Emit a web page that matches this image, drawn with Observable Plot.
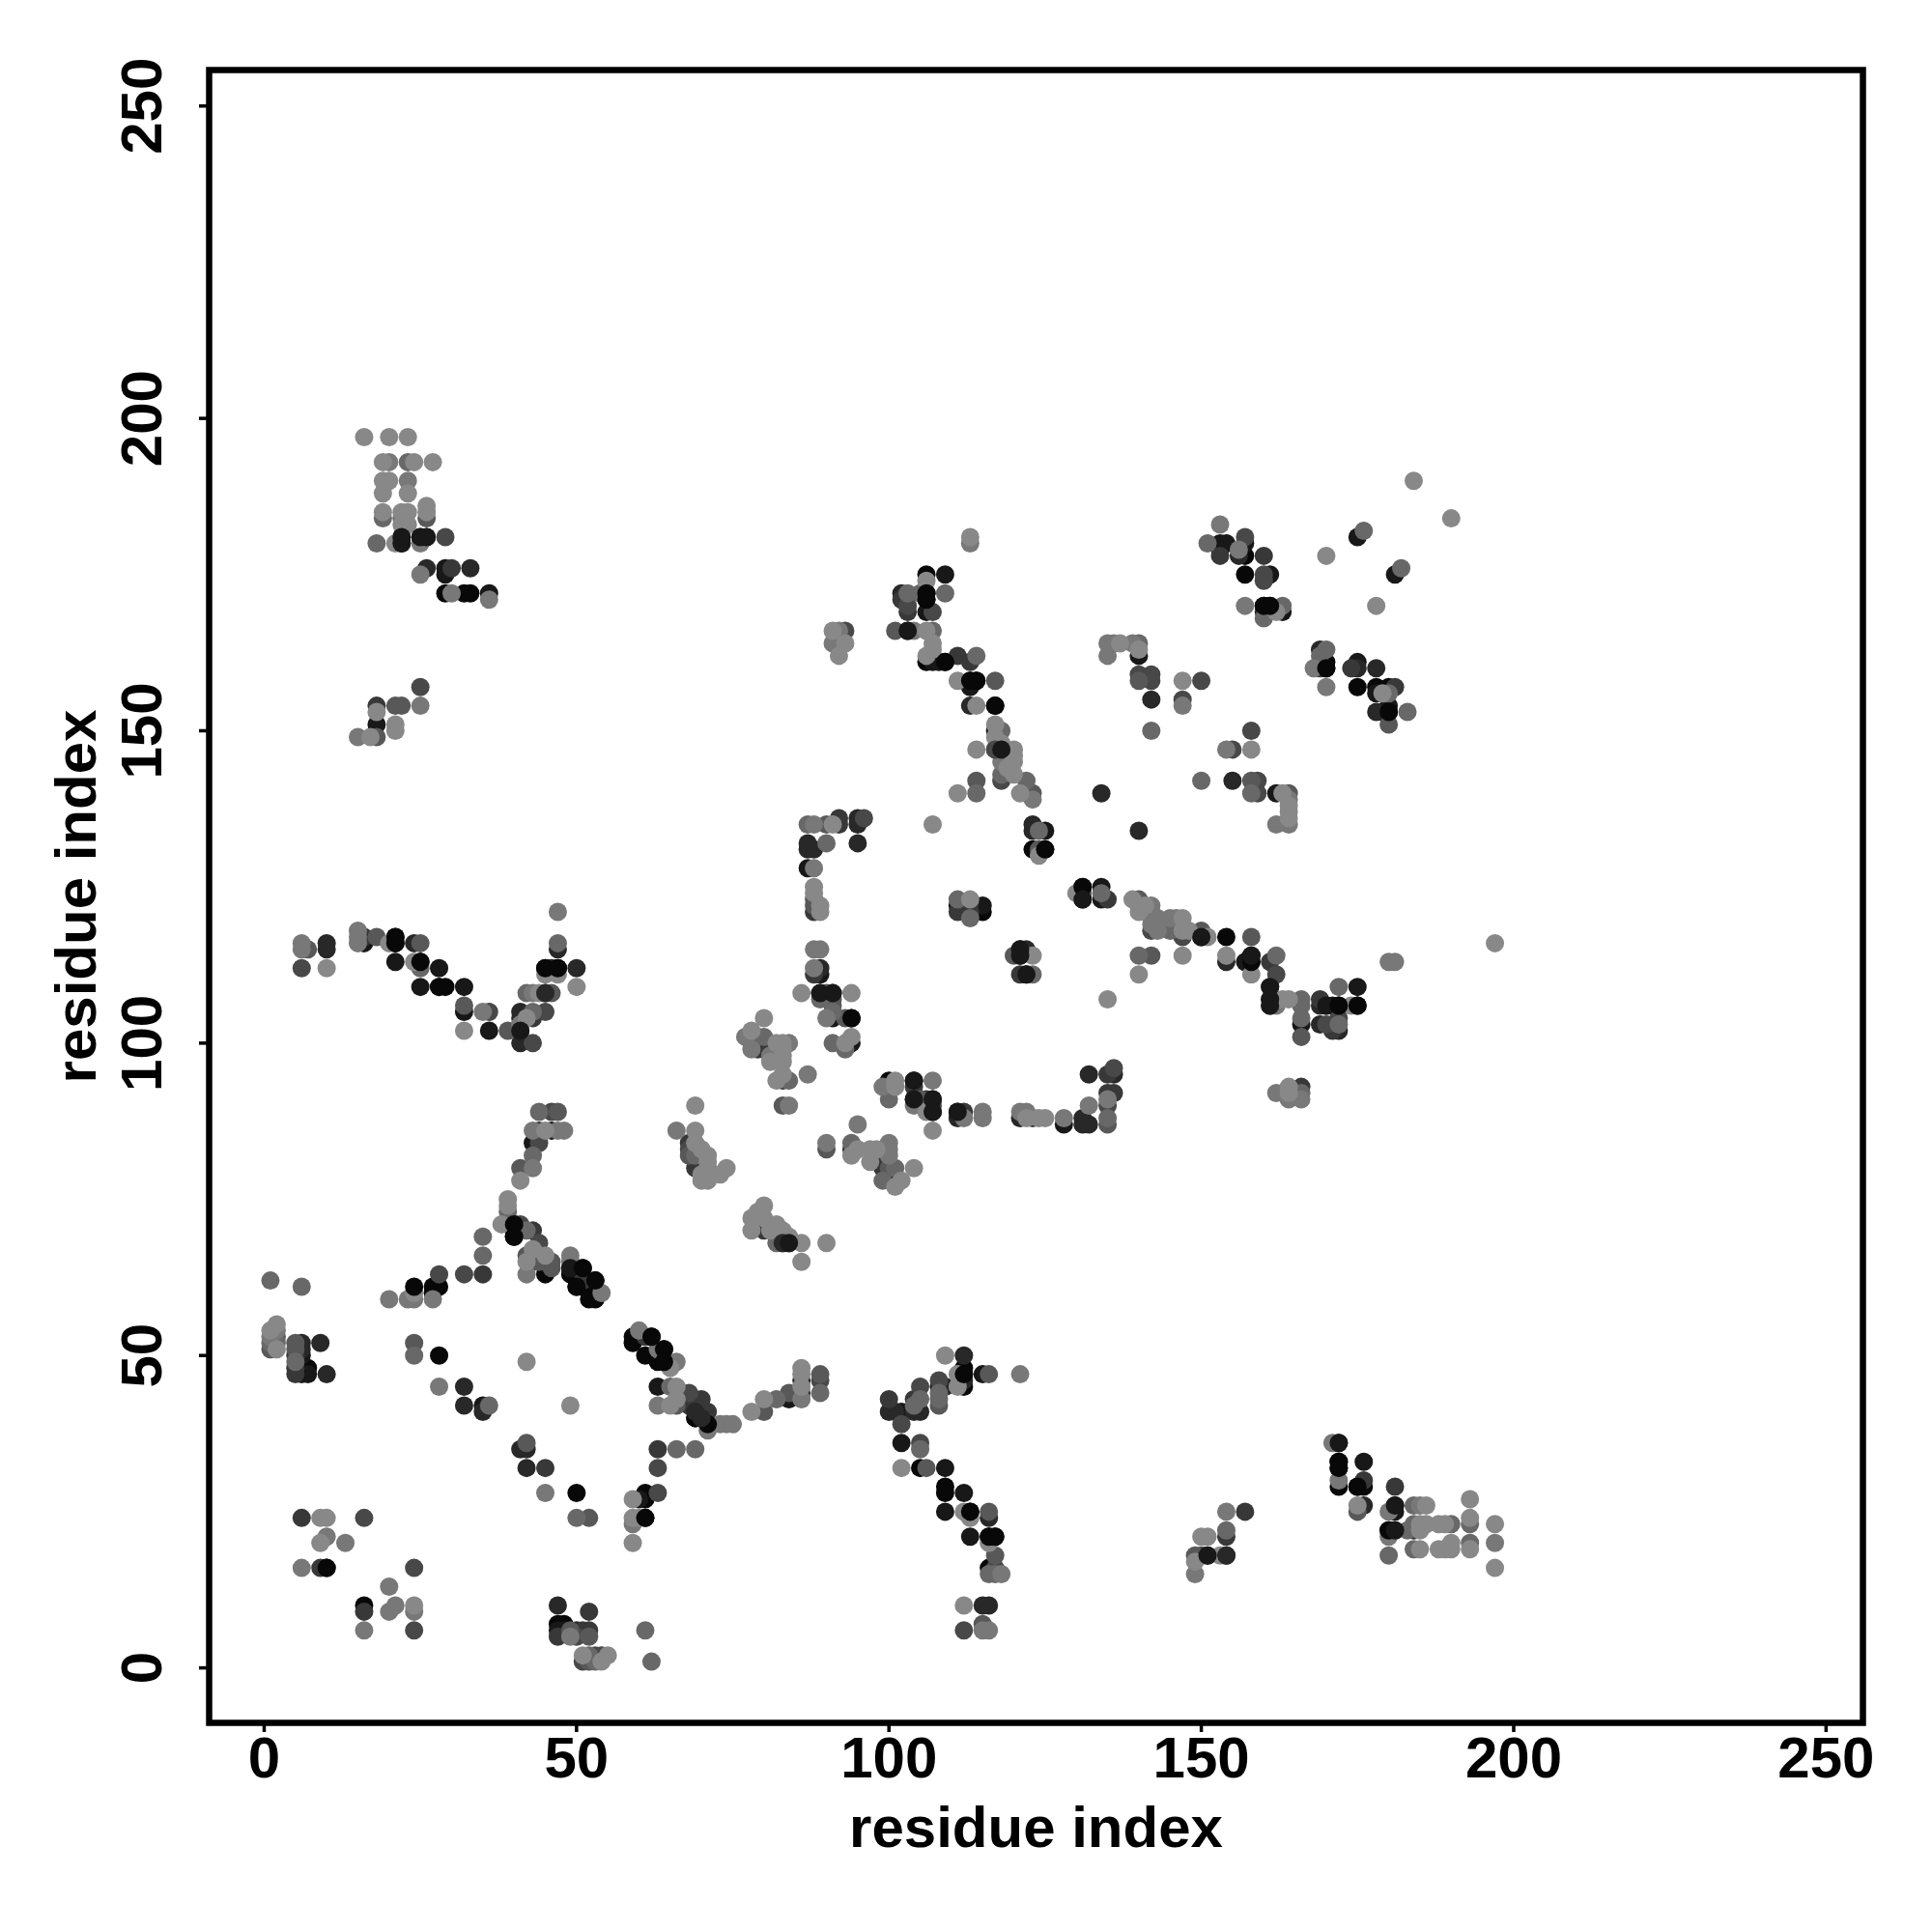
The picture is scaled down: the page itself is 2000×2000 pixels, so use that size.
<!DOCTYPE html>
<html><head><meta charset="utf-8">
<script src="https://cdn.jsdelivr.net/npm/d3@7"></script>
<script src="https://cdn.jsdelivr.net/npm/@observablehq/plot@0.6"></script>
<style>html,body{margin:0;padding:0;background:#fff}</style>
</head><body><div id="chart"></div>
<script>
// each contact: [residue i, residue j, darkness level 0 (black) .. 8 (light gray)]
const lowerLeft = [[1,62,6],[6,61,6],[1,54,8],[1,53,7],[1,52,6],[1,51,5],[2,55,8],[2,54,7],[2,53,5],[2,52,6],[2,51,8],
[5,52,5],[6,52,2],[5,51,5],[6,51,2],[5,50,3],[6,50,1],[5,49,6],[5,48,3],[5,47,3],[6,48,0],[7,48,0],[6,47,1],[7,47,1],[9,52,2],[10,47,2],
[20,59,7],[23,59,7],[24,59,7],[24,60,8],[27,59,7],[27,60,0],[27,61,0],[28,61,0],[28,63,4],[32,63,4],[35,63,3],[35,66,6],[35,69,6],
[24,52,5],[24,50,6],[28,50,0],[42,49,8],[28,45,7],[32,45,2],[32,42,2],[35,42,1],[35,41,2],[36,42,6],[49,42,8],
[42,36,5],[41,35,2],[42,35,2],[42,32,2],[45,32,3],[45,28,7],[50,28,0],[50,24,6],[52,24,5],
[6,24,3],[9,24,8],[10,24,8],[16,24,4],[10,21,7],[9,20,8],[13,20,7],[6,16,7],[9,16,3],[10,16,0],[24,16,4],[20,13,7],[16,10,0],[16,9,3],[21,10,7],[20,9,7],[24,10,8],[24,9,7],[16,6,7],[24,6,4]];
const bottomMiddle = [[47,10,2],[52,9,3],[47,7,0],[48,7,0],[47,6,1],[47,5,3],[48,6,1],[49,5,7],[50,6,2],[51,6,3],[52,6,3],[52,5,5],[50,5,4],[49,6,5],
[51,2,8],[51,1,4],[52,2,6],[52,1,5],[53,2,4],[53,1,6],[54,2,4],[54,1,8],[55,2,8],[61,6,6],[62,1,6],
[59,27,8],[59,24,8],[59,23,7],[59,20,8],[60,24,8],[61,24,0],[60,27,1],[61,28,0],[61,27,0],[63,28,4],[63,32,4],[63,35,3],[66,35,6],[69,35,6]];
const chainCentre = [[59,53,0],[59,52,0],[60,54,7],[61,53,3],[62,53,0],[61,50,0],[63,51,7],[64,51,0],[63,49,0],[64,49,0],[66,49,7],[65,48,8],
[63,45,1],[65,45,6],[66,45,8],[63,42,7],[65,42,8],[66,42,5],[66,43,8],[68,44,4],[70,43,3],[69,43,3],[69,40,0],[69,41,2],[71,41,3],[71,39,0],[71,38,7],[70,40,2],[68,42,3],[73,39,7],[74,39,7],[75,39,7],
[78,41,8],[80,41,5],[80,43,8],[82,43,6],[84,44,5],[84,43,1],[86,48,8],[86,47,8],[86,46,2],[86,45,8],[86,44,3],[86,43,7],[89,47,5],[89,46,4],[89,44,6]];
const crossArms = [[39,75,8],[39,74,8],[39,73,6],[38,71,8],[39,71,0],[40,71,0],[41,71,4],[40,69,0],[43,70,3],[44,68,4],[42,70,6],[42,66,5],[43,67,8],[45,66,8],[46,65,5],[49,66,7],
[42,65,8],[42,63,7],[45,63,0],[43,65,3],[44,65,5],[45,65,5],[46,64,5],[49,65,7],[50,64,1],[51,64,0],[49,64,1],[49,63,0],[50,61,0],[51,62,3],[52,60,0],[53,62,0],[54,60,7],[52,59,0],[53,59,0],
[44,89,6],[46,89,4],[47,89,5],[43,86,7],[44,86,3],[45,86,8],[46,86,1],[47,86,7],[48,86,7],[43,84,1],[44,84,4],[43,82,6],[41,80,5],[43,80,7],[41,78,8]];
const upperLeftArc = [[6,116,7],[6,115,7],[7,115,5],[10,116,2],[10,115,2],[6,112,4],[10,112,8],[15,118,7],[15,117,7],[15,116,7],[16,117,3],[16,116,1],[18,117,5],[20,116,8],[21,117,0],[21,116,0],[24,116,2],[25,116,5],
[21,113,1],[24,113,8],[25,113,0],[25,112,6],[28,112,1],[25,109,1],[28,109,0],[29,109,0],[32,109,1],[32,106,5],[32,105,1],[32,102,8],[35,105,7],[36,105,4],[36,102,1],[39,102,5],
[41,105,2],[41,104,2],[41,103,7],[42,108,6],[43,108,7],[44,108,8],[45,108,2],[46,108,5],[43,105,6],[43,104,3],[42,104,8],[45,105,4],[41,102,1],[41,100,2],[43,100,4],
[45,112,0],[46,112,2],[47,112,0],[45,111,8],[47,111,8],[50,112,2],[50,109,8],[47,121,7],[47,116,6],[47,115,2]];
const centreLeft = [[69,90,8],[66,86,7],[69,86,8],[68,84,3],[68,83,4],[68,82,5],[69,84,8],[70,83,8],[71,82,8],[69,82,6],[69,80,3],[70,79,8],[71,80,8],[70,78,8],[71,78,8],[73,79,8],[74,80,8],[71,81,8],
[80,74,8],[79,73,8],[78,72,8],[80,72,8],[78,70,8],[80,70,3],[82,71,8],[81,70,8],[82,68,6],[83,70,8],[83,68,2],[84,69,8],[84,68,1],[86,68,8],[86,65,8],[90,68,8],
[88,125,8],[88,124,8],[88,123,5],[88,122,5],[89,122,8],[88,121,3],[89,121,8],[88,115,7],[89,115,7],[88,112,7],[88,111,3],[89,112,2],[89,111,1],
[86,108,8],[89,108,1],[90,108,5],[91,108,1],[89,107,6],[91,107,5],[94,108,8],[91,106,5],[90,104,7],[91,104,1],[93,104,5],[94,104,0],[91,105,6],[91,100,6],[93,99,6],[94,100,1],[94,101,8],[93,100,8],
[80,104,8],[77,101,7],[78,102,8],[78,100,6],[78,99,7],[79,101,5],[79,99,3],[80,101,6],[80,99,3],[81,98,7],[83,100,8],[84,100,7],[82,100,8],[83,99,8],[83,98,8],[83,97,8],[82,94,8],[83,94,4],[84,94,6],[83,95,8],[81,97,8],[87,95,7],[83,90,5],[84,90,7],
[90,84,7],[90,83,5],[95,87,7],[94,84,6],[94,82,8],[95,83,8],[94,83,3],[97,83,8],[98,83,8],[97,81,8],[100,84,7],[100,83,7],[100,82,7],[99,81,3],[99,80,3],[99,78,6],[100,79,2],[101,80,6],[101,77,8],[102,78,8],[104,80,8],[100,80,5]];
const horizontalArm = [[99,93,7],[100,94,0],[100,93,5],[100,91,6],[101,94,8],[101,93,8],[104,94,1],[104,93,3],[104,91,1],[105,91,5],[104,90,7],[107,94,7],[106,91,3],[107,91,1],[107,90,4],[106,89,8],[107,89,1],[107,86,8],
[111,89,1],[112,89,3],[112,88,7],[111,88,2],[115,89,7],[115,88,7],[121,89,7],[122,89,7],[121,88,2],[122,88,8],[123,88,3],[124,88,8],[125,88,8],[128,88,7],[128,87,1],[131,88,2],[131,87,2],[132,87,2],[132,90,7],
[132,95,2],[135,95,3],[136,96,4],[136,95,2],[135,92,3],[136,92,3],[135,91,7],[135,90,4],[135,88,6],[135,87,5]];
const centreMiddle = [[111,123,6],[111,122,1],[111,121,3],[113,123,8],[113,122,2],[113,121,3],[113,120,6],[115,122,1],[115,121,0],[131,125,0],[131,124,5],[131,123,1],[130,124,8],[134,125,1],[134,123,1],[135,123,3],[134,124,6],
[120,114,5],[121,115,1],[122,115,2],[121,114,1],[123,114,8],[121,111,3],[122,111,1],[123,111,6],[135,107,8],[140,111,8],[140,114,6],[142,114,5],[147,114,8],
[139,123,8],[140,123,5],[140,122,5],[140,121,8],[141,122,8],[142,122,7],[142,121,7],[142,120,7],[142,118,4],[143,118,7],[142,119,7],[143,120,7],[145,120,7],[146,120,7],[147,120,8],[145,118,6],[146,118,1],[147,117,4],[147,118,8],[148,118,8],[150,118,5],[150,117,1],[151,117,8]];
const lowerMiddle = [[100,43,3],[100,41,2],[101,41,2],[102,41,1],[102,39,4],[102,36,1],[102,32,8],[104,43,3],[105,45,4],[105,43,6],[105,41,2],[104,41,2],[104,42,6],[108,46,4],[108,43,6],[108,42,5],[108,44,6],[108,45,1],[109,45,2],
[111,47,8],[111,45,8],[112,50,2],[109,50,8],[112,47,0],[112,48,0],[112,46,2],[112,45,0],[115,47,1],[116,47,5],[121,47,7],[105,36,4],[105,35,6],[105,32,0],[106,32,5],[109,32,1],[109,29,0],[109,28,0],[112,28,1],[109,25,1],
[112,25,8],[113,25,0],[113,24,8],[116,25,5],[116,24,2],[113,21,1],[116,21,0],[117,21,0],[116,20,8],[117,18,5],[116,16,0],[117,16,4],[116,15,6],[117,15,6],[118,15,7],[112,10,8],[115,10,2],[116,10,2],[112,6,4],[115,7,5],[115,6,7],[116,6,7]];
const lowerRight = [[149,15,7],[149,17,8],[149,18,5],[150,18,4],[151,18,1],[150,21,8],[151,21,8],[153,18,8],[154,18,2],[154,21,3],[154,22,6],[154,25,7],[157,25,3],
[171,36,7],[172,36,1],[172,33,0],[172,32,0],[172,30,7],[172,29,0],[176,33,1],[176,30,3],[175,29,0],[176,29,0],[176,26,2],[175,26,8],[175,25,5],[181,29,3],[181,26,1],[181,25,1],[180,25,7],[180,22,0],[181,22,1],[180,21,7],[180,18,6],
[184,26,6],[185,26,7],[186,26,8],[183,22,6],[184,23,6],[185,23,8],[186,23,8],[184,22,3],[185,22,8],[188,23,8],[189,23,8],[190,23,6],[184,19,6],[185,19,8],[188,19,8],[189,19,8],[190,20,8],[190,19,8],[193,27,8],[193,24,8],[193,23,6],[193,20,6],[193,19,8],[197,23,8],[197,20,7],[197,16,8]];
const rightMiddle = [[154,117,0],[158,117,5],[154,114,8],[154,113,2],[157,113,1],[158,114,1],[158,113,0],[158,111,8],[161,113,3],[162,114,6],[162,111,4],[161,109,1],[161,107,1],[161,106,1],[162,106,7],[163,107,8],[164,107,8],[166,107,6],[166,106,6],[166,104,6],[166,103,1],[166,101,5],
[169,107,3],[169,106,2],[170,106,1],[172,109,6],[172,106,0],[171,106,1],[172,104,4],[175,109,1],[175,106,0],[174,106,8],[169,103,2],[170,103,4],[171,103,2],[171,102,3],[172,102,2],[172,103,6],[180,113,7],[181,113,7],[197,116,8],[162,92,7],[164,93,8],[164,91,7],[164,92,8],[166,93,3],[166,92,6],[166,91,7]];
const upperCentre = [[113,181,8],[113,180,7],[106,175,0],[109,175,1],[106,174,8],[109,172,6],[102,172,2],[102,171,3],[103,172,6],[103,169,3],[103,170,4],[106,172,0],[106,171,0],[106,169,1],[107,169,4],[105,172,6],
[101,166,5],[103,166,1],[104,166,7],[106,166,8],[107,166,6],[107,164,8],[107,163,8],[106,162,8],[106,161,0],[107,161,1],[109,161,0],[108,161,1],[111,162,3],[113,161,3],[114,162,6],[91,166,8],[92,166,7],[93,166,4],[91,164,7],[93,164,8],[92,164,4],[92,162,8],
[111,158,8],[113,158,0],[114,158,0],[113,157,1],[117,158,5],[113,154,2],[114,154,8],[117,154,0],[117,151,8],[117,150,1],[118,150,6],[117,149,8],[118,148,8],[114,147,8],[117,147,4],[118,147,1],[120,147,8],[120,146,8],[120,145,8],[118,145,7],[118,143,6],[118,142,4],[120,143,8],[119,144,8],[122,142,6],[114,142,5],[114,140,6],[111,140,8],[121,140,8],[123,140,5],[123,139,7],[122,140,5],
[134,140,2],[107,135,8],[123,135,2],[123,134,2],[125,134,1],[124,134,6],[123,131,0],[125,131,0],[124,131,5],[124,130,8],[140,134,2],
[87,135,6],[88,135,7],[90,135,5],[91,135,8],[92,136,3],[92,135,3],[95,136,2],[96,136,4],[95,135,2],[95,132,2],[90,132,6],[87,132,2],[87,131,2],[88,131,2],[87,128,1],[88,128,7]];
const upperRightMid = [[135,164,7],[135,162,7],[136,164,7],[137,164,8],[139,164,7],[140,164,6],[140,163,8],[140,162,1],[140,159,4],[140,158,5],[142,159,4],[142,158,4],[142,155,2],[142,150,6],[147,158,8],[150,158,4],[147,155,4],[147,154,7],[150,142,6],
[158,150,4],[154,147,7],[155,147,4],[158,147,8],[155,142,2],[158,142,5],[159,142,4],[158,140,6],[159,140,4],[162,140,1],[163,140,8],[164,140,5],[164,139,7],[164,138,8],[164,137,8],[162,135,7],[164,135,7],[164,136,8]];
const upperRight = [[184,190,8],[190,184,8],[153,183,7],[151,180,6],[153,180,1],[154,180,1],[153,179,1],[153,178,3],[156,179,7],[157,181,4],[157,180,1],[157,178,0],[156,178,2],[160,178,3],[157,175,0],[160,175,4],[161,175,1],[160,174,4],
[157,170,7],[160,170,0],[161,170,0],[160,169,2],[160,168,6],[163,170,6],[162,169,8],[163,169,1],[170,178,8],[175,181,1],[176,182,6],[181,175,1],[182,176,6],[178,170,8],
[169,163,2],[170,163,6],[169,162,6],[170,161,0],[170,160,0],[168,160,7],[169,160,3],[170,157,7],[175,161,1],[174,160,3],[175,160,2],[178,160,2],[175,157,0],[178,157,0],[178,156,1],[180,157,0],[181,157,3],[179,156,8],[180,156,6],[178,153,2],[179,153,1],[180,154,1],[180,153,0],[183,153,6],[180,151,5]];
const upperLeft = [[16,197,8],[20,197,8],[23,197,8],[19,193,8],[20,193,7],[23,193,6],[24,193,8],[27,193,8],[19,190,8],[20,190,8],[19,188,8],[23,190,7],[23,188,8],[19,185,8],[19,184,6],[23,185,8],[22,185,8],[22,184,6],[23,183,8],[26,186,8],[26,185,8],[26,184,5],[22,183,8],
[18,180,6],[21,180,8],[22,180,1],[22,181,1],[25,180,7],[25,181,1],[26,181,1],[29,181,4],[26,176,2],[25,175,7],[29,176,1],[30,176,3],[29,175,1],[33,176,2],[29,172,0],[30,172,7],[32,172,0],[33,172,0],[36,172,1],[36,171,7],
[25,157,4],[18,154,3],[18,153,8],[22,154,5],[21,154,5],[25,154,7],[18,151,1],[21,151,8],[21,150,8],[15,149,7],[17,149,8],[18,149,5]];
// contacts that sit in front of lighter neighbours
const frontContacts = [[24,61,0],[25,113,0],[113,25,0],[61,24,0],[172,36,1],[158,113,0],[175,106,0],[117,154,0],[112,47,0],[114,158,0],[10,16,0],[170,160,0],
[22,180,1],[22,181,1],[25,181,1],[26,181,1],[45,112,0],[47,112,0],[40,71,0],[40,69,0],[49,64,1],[51,64,0],[53,62,0],[50,61,0],[64,51,0],[64,49,0],[62,53,0],[69,40,0],[71,39,0],[69,41,2],[70,40,2],
[106,172,0],[106,171,0],[103,166,1],[109,161,0],[113,158,0],[117,147,4],[118,147,1],[125,131,0],[160,170,0],[161,170,0],[180,153,0],[180,22,0],[181,22,1],[172,33,0],[172,32,0],[175,29,0],[181,26,1],[116,21,0],[117,21,0],[151,18,1],[154,18,2],
[83,68,2],[84,68,1],[89,108,1],[91,108,1],[94,104,0],[107,91,1],[107,89,1],[104,94,1],[104,91,1],[111,89,1],[131,125,0],[131,123,1],[121,115,1],[121,114,1],[122,111,1],[150,117,1],[161,109,1],[161,107,1],[161,106,1],[170,106,1],[172,106,0],[158,114,1],[21,117,0],[21,116,0],[28,109,0],[45,108,2],[41,102,1]];

const xTicks = [0,50,100,150,200,250];
const yTicks = [0,50,100,150,200,250];
const axisTitle = "residue index";

const contacts = [lowerLeft,bottomMiddle,chainCentre,crossArms,upperLeftArc,centreLeft,horizontalArm,centreMiddle,lowerMiddle,lowerRight,rightMiddle,upperCentre,upperRightMid,upperRight,upperLeft]
  .flat().sort((a,b)=>a[2]-b[2]).concat(frontContacts);

const chart = Plot.plot({
  width:2000, height:2000,
  marginLeft:216, marginRight:72, marginTop:72, marginBottom:217,
  style:{fontFamily:"'Liberation Sans',Arial,sans-serif",fontWeight:"bold",background:"#fff",color:"#000"},
  x:{domain:[-8.81,255.9]},
  y:{domain:[-8.8,255.76]},
  color:{type:"linear",domain:[0,8],range:["#080808","#888888"]},
  marks:[
    Plot.dot(contacts,{x:d=>d[0],y:d=>d[1],fill:d=>d[2],r:9.5,stroke:null}),
    Plot.frame({stroke:"#000",strokeWidth:6.5}),
    Plot.axisX({ticks:xTicks,tickSize:10,strokeWidth:3.5,tickPadding:4,fontSize:60,label:axisTitle,labelAnchor:"center",labelArrow:"none",labelOffset:128,tickFormat:d=>String(d)}),
    Plot.axisY({ticks:yTicks,tickSize:10,strokeWidth:3.5,tickPadding:40,fontSize:60,tickRotate:-90,textAnchor:"middle",label:axisTitle,labelAnchor:"center",labelArrow:"none",labelOffset:160,tickFormat:d=>String(d)})
  ]
});
document.getElementById("chart").appendChild(chart);
</script></body></html>
